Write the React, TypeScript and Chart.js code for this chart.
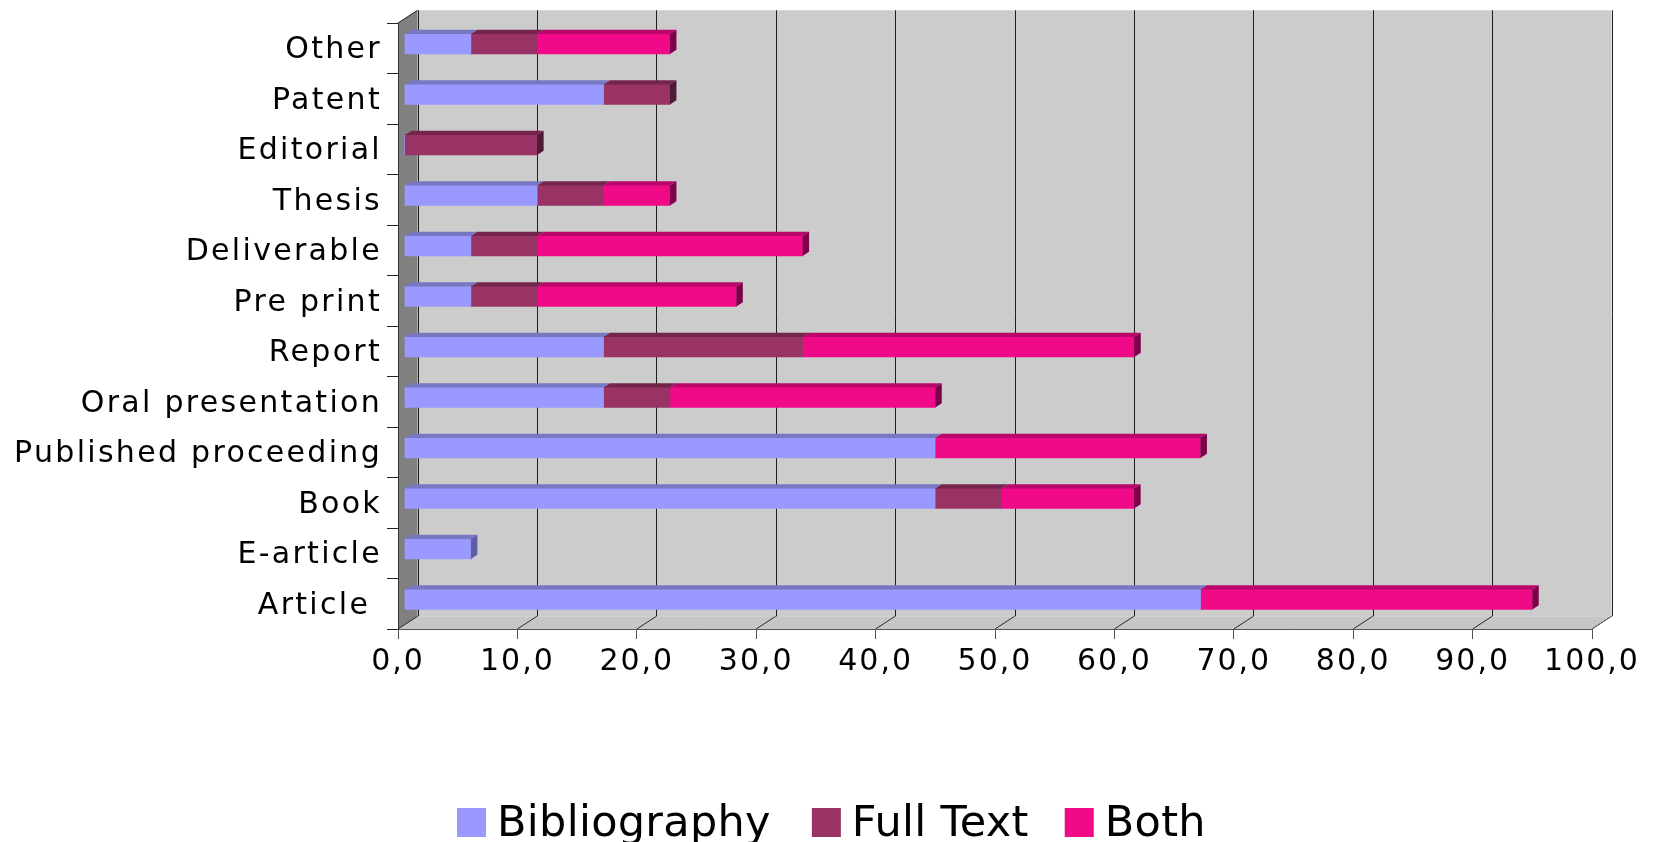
import React, { useEffect, useRef } from 'react';
import { Chart, registerables } from 'chart.js';

Chart.register(...registerables);

// ---- data ----
const categories = [
  'Other',
  'Patent',
  'Editorial',
  'Thesis',
  'Deliverable',
  'Pre print',
  'Report',
  'Oral presentation',
  'Published proceeding',
  'Book',
  'E-article',
  'Article ',
];
const bibliography = [5.56, 16.67, 0, 11.11, 5.56, 5.56, 16.67, 16.67, 44.44, 44.44, 5.56, 66.67];
const fullText = [5.56, 5.56, 11.11, 5.56, 5.56, 5.56, 16.67, 5.56, 0, 5.56, 0, 0];
const both = [11.11, 0, 0, 5.56, 22.22, 16.67, 27.78, 22.22, 22.22, 11.11, 0, 27.78];
const seriesNames = ['Bibliography', 'Full Text', 'Both'];
const xTickValues = [0, 10, 20, 30, 40, 50, 60, 70, 80, 90, 100];

// ---- styles ----
const frontColors = ['#9999FF', '#993366', '#F00A87'];
const topColors = ['#7777C2', '#75244C', '#B8066A'];
const sideColors = ['#5E5EA6', '#4F1A35', '#7D004A'];
const FONT = '"DejaVu Sans", Verdana, sans-serif';
const WALL_DX = 19.5;
const WALL_DY = -12.7;
const BAR_DX = 6.5;
const BAR_DY = -4.3;
const LEGEND_GAPS = [41, 36];

function poly(ctx: CanvasRenderingContext2D, pts: number[][], fill: string) {
  ctx.beginPath();
  ctx.moveTo(pts[0][0], pts[0][1]);
  for (let i = 1; i < pts.length; i++) ctx.lineTo(pts[i][0], pts[i][1]);
  ctx.closePath();
  ctx.fillStyle = fill;
  ctx.fill();
}

function line(ctx: CanvasRenderingContext2D, x1: number, y1: number, x2: number, y2: number, color: string) {
  ctx.beginPath();
  ctx.moveTo(x1, y1);
  ctx.lineTo(x2, y2);
  ctx.strokeStyle = color;
  ctx.lineWidth = 1;
  ctx.stroke();
}

const threeDPlugin = {
  id: 'threeD',
  beforeDraw(chart: any) {
    const ctx: CanvasRenderingContext2D = chart.ctx;
    const a = chart.chartArea;
    const xs = chart.scales.x;
    ctx.save();
    // back wall
    ctx.fillStyle = '#cccccc';
    ctx.fillRect(a.left + WALL_DX, a.top + WALL_DY, a.right - a.left, a.bottom - a.top);
    // floor
    poly(ctx, [[a.left, a.bottom], [a.right, a.bottom], [a.right + WALL_DX, a.bottom + WALL_DY], [a.left + WALL_DX, a.bottom + WALL_DY]], '#c6c6c6');
    // side wall
    poly(ctx, [[a.left, a.top], [a.left + WALL_DX, a.top + WALL_DY], [a.left + WALL_DX, a.bottom + WALL_DY], [a.left, a.bottom]], '#808080');
    // grid lines on back wall and floor
    for (const v of xTickValues) {
      const px = xs.getPixelForValue(v);
      const bx = Math.round(px + WALL_DX) + 0.5;
      line(ctx, bx, a.top + WALL_DY, bx, a.bottom + WALL_DY, '#1e1e1e');
      line(ctx, px, a.bottom, px + WALL_DX, a.bottom + WALL_DY, '#2a2a2a');
    }
    line(ctx, a.left, a.top, a.left + WALL_DX, a.top + WALL_DY, '#222');
    line(ctx, a.right, a.bottom, a.right + WALL_DX, a.bottom + WALL_DY, '#777');
    ctx.restore();
    (ctx as any).letterSpacing = '2.3px';
  },
  beforeDatasetsDraw(chart: any) {
    const ctx: CanvasRenderingContext2D = chart.ctx;
    ctx.save();
    ctx.translate(BAR_DX, BAR_DY);
  },
  afterDatasetsDraw(chart: any) {
    const ctx: CanvasRenderingContext2D = chart.ctx;
    const n = categories.length;
    const last: any[] = new Array(n).fill(null);
    chart.data.datasets.forEach((ds: any, di: number) => {
      const meta = chart.getDatasetMeta(di);
      meta.data.forEach((el: any, i: number) => {
        const p = el.getProps(['x', 'y', 'base', 'height'], true);
        if (Math.abs(p.x - p.base) < 0.5) return;
        const top = p.y - p.height / 2;
        poly(ctx, [[p.base, top], [p.x, top], [p.x + BAR_DX, top + BAR_DY], [p.base + BAR_DX, top + BAR_DY]], topColors[di]);
        if (!last[i] || p.x > last[i].p.x) last[i] = { p, di };
      });
    });
    last.forEach((it) => {
      if (!it) return;
      const p = it.p;
      const top = p.y - p.height / 2;
      const bot = p.y + p.height / 2;
      poly(ctx, [[p.x, top], [p.x + BAR_DX, top + BAR_DY], [p.x + BAR_DX, bot + BAR_DY], [p.x, bot]], sideColors[it.di]);
    });
    ctx.restore();
    (ctx as any).letterSpacing = '2px';
  },
  afterDraw(chart: any) {
    const ctx: CanvasRenderingContext2D = chart.ctx;
    ctx.save();
    (ctx as any).letterSpacing = '0.3px';
    ctx.font = '43px ' + FONT;
    ctx.textBaseline = 'alphabetic';
    ctx.textAlign = 'left';
    const box = 29;
    const gapText = 11;
    const widths = seriesNames.map((s) => ctx.measureText(s).width);
    let x = chart.scales.x.left + 59;
    seriesNames.forEach((s, i) => {
      ctx.fillStyle = frontColors[i];
      ctx.fillRect(x, 808, box, box);
      ctx.fillStyle = '#000';
      ctx.fillText(s, x + box + gapText, 836);
      x += box + gapText + widths[i] + (LEGEND_GAPS[i] || 0);
    });
    ctx.restore();
    (ctx as any).letterSpacing = '0px';
  },
};

export default function App() {
  const ref = useRef<HTMLCanvasElement>(null);
  useEffect(() => {
    const canvas = ref.current;
    if (!canvas) return;
    const values = [bibliography, fullText, both];
    const chart = new Chart(canvas, {
      type: 'bar',
      data: {
        labels: categories,
        datasets: seriesNames.map((name, i) => ({
          label: name,
          data: values[i],
          backgroundColor: frontColors[i],
          borderWidth: 0,
          barThickness: 20,
          clip: false as any,
        })),
      },
      options: {
        indexAxis: 'y',
        animation: false,
        responsive: false,
        devicePixelRatio: 1,
        layout: { padding: { top: 21, right: 62, bottom: 153, left: 0 } },
        plugins: {
          legend: { display: false },
          tooltip: { enabled: false },
        },
        scales: {
          x: {
            stacked: true,
            min: 0,
            max: 100,
            afterFit: (s: any) => {
              s.height = 60;
            },
            afterBuildTicks: (s: any) => {
              s.ticks = xTickValues.map((v) => ({ value: v }));
            },
            ticks: {
              autoSkip: false,
              maxRotation: 0,
              padding: 5,
              color: '#000',
              font: { family: FONT, size: 30 },
              callback: (v: any) => Number(v).toFixed(1).replace('.', ','),
              z: 1,
            } as any,
            grid: { drawOnChartArea: false, drawTicks: true, tickLength: 10, color: '#555' },
            border: { display: true, color: '#555' },
          },
          y: {
            stacked: true,
            afterFit: (s: any) => {
              s.width = 398;
            },
            ticks: {
              padding: 5,
              labelOffset: 2,
              color: '#000',
              font: { family: FONT, size: 30 },
              autoSkip: false,
            },
            grid: { drawOnChartArea: false, drawTicks: true, tickLength: 11, color: '#222', offset: true },
            border: { display: true, color: '#333' },
          },
        },
      } as any,
      plugins: [threeDPlugin as any],
    });
    return () => chart.destroy();
  }, []);
  return (
    <div style={{ position: 'fixed', left: 0, top: 0, width: 1654, height: 842, background: '#fff' }}>
      <canvas ref={ref} width={1654} height={842} style={{ display: 'block', width: 1654, height: 842 }} />
    </div>
  );
}
